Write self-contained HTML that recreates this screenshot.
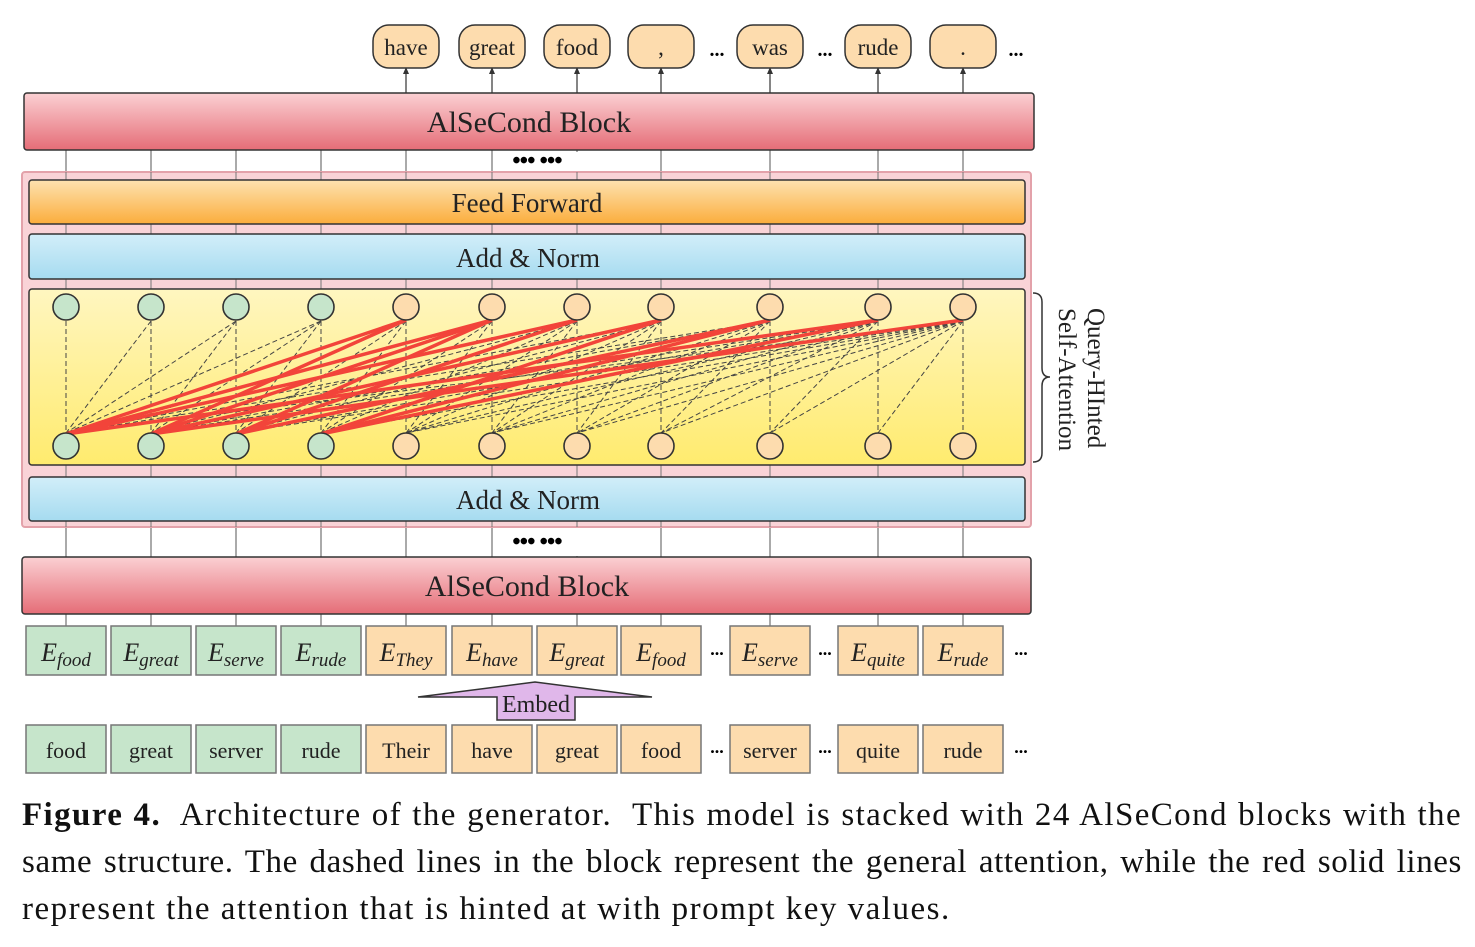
<!DOCTYPE html>
<html><head><meta charset="utf-8"><style>
html,body{margin:0;padding:0;background:#fff;}
svg{display:block;}
.cap{position:absolute;left:22px;width:1440px;font-family:"Liberation Serif",serif;font-size:33px;letter-spacing:1.5px;line-height:47px;text-align:justify;text-align-last:justify;color:#111;white-space:nowrap;}
</style></head><body>
<div style="position:relative;width:1475px;height:947px;overflow:hidden">
<svg id="s" width="1475" height="947" xmlns="http://www.w3.org/2000/svg" font-family="Liberation Serif, serif">
<defs>
<linearGradient id="gr" x1="0" y1="0" x2="0" y2="1"><stop offset="0" stop-color="#fbd0d3"/><stop offset="1" stop-color="#e56d77"/></linearGradient>
<linearGradient id="go" x1="0" y1="0" x2="0" y2="1"><stop offset="0" stop-color="#fde2b0"/><stop offset="1" stop-color="#fbad3c"/></linearGradient>
<linearGradient id="gb" x1="0" y1="0" x2="0" y2="1"><stop offset="0" stop-color="#d2eef9"/><stop offset="1" stop-color="#a6dbf0"/></linearGradient>
<linearGradient id="gy" x1="0" y1="0" x2="0" y2="1"><stop offset="0" stop-color="#fff6c0"/><stop offset="1" stop-color="#ffeb6e"/></linearGradient>
</defs>
<g id="bg"></g>
</svg>
<div class="cap" style="top:792px;letter-spacing:1.4px"><b>Figure 4.</b>&nbsp; Architecture of the generator.&nbsp; This model is stacked with 24 AlSeCond blocks with the</div>
<div class="cap" style="top:839px;letter-spacing:0.6px">same structure. The dashed lines in the block represent the general attention, while the red solid lines</div>
<div class="cap" style="top:886px;text-align-last:left">represent the attention that is hinted at with prompt key values.</div>
</div>
<script>
(function(){
const NS="http://www.w3.org/2000/svg",g=document.getElementById('bg');
function el(t,a,txt){const e=document.createElementNS(NS,t);for(const k in a)e.setAttribute(k,a[k]);if(txt!==undefined)e.textContent=txt;g.appendChild(e);return e;}
const X=[66,151,236,321,406,492,577,661,770,878,963];
const toks=["have","great","food",",","was","rude","."];
for(let i=0;i<7;i++){const x=X[i+4];
 el('line',{x1:x,y1:93,x2:x,y2:72,stroke:'#333','stroke-width':1.2});
 el('path',{d:`M${x-3} 74 L${x} 67 L${x+3} 74Z`,fill:'#333'});
 el('rect',{x:x-33,y:25,width:66,height:43,rx:16,fill:'#fddcae',stroke:'#333','stroke-width':1.5});
 el('text',{x:x,y:55,'text-anchor':'middle','font-size':23,fill:'#222'},toks[i]);}
[717,825,1016].forEach(x=>el('text',{x:x,y:56,'text-anchor':'middle','font-size':20,'font-weight':'bold'},'...'));
X.forEach(x=>{el('line',{x1:x,y1:150,x2:x,y2:180,stroke:'#555'});el('line',{x1:x,y1:521,x2:x,y2:557,stroke:'#555'});el('line',{x1:x,y1:614,x2:x,y2:626,stroke:'#555'});});
el('rect',{x:22,y:172,width:1009,height:355,fill:'#f9d3d7',stroke:'#e3a2aa','stroke-width':2,rx:3});
X.forEach(x=>el('line',{x1:x,y1:172,x2:x,y2:527,stroke:'#777'}));
el('rect',{x:24,y:93,width:1010,height:57,rx:3,fill:'url(#gr)',stroke:'#333','stroke-width':1.5});
el('text',{x:529,y:132,'text-anchor':'middle','font-size':30,fill:'#222'},'AlSeCond Block');
el('rect',{x:22,y:557,width:1009,height:57,rx:3,fill:'url(#gr)',stroke:'#333','stroke-width':1.5});
el('text',{x:527,y:596,'text-anchor':'middle','font-size':30,fill:'#222'},'AlSeCond Block');
el('rect',{x:495,y:152,width:85,height:19,fill:'#fff'});
el('text',{x:537,y:168,'text-anchor':'middle','font-size':24,'font-weight':'bold','letter-spacing':'-1'},'\u2022\u2022\u2022 \u2022\u2022\u2022');
el('rect',{x:495,y:528,width:85,height:28,fill:'#fff'});
el('text',{x:537,y:549,'text-anchor':'middle','font-size':24,'font-weight':'bold','letter-spacing':'-1'},'\u2022\u2022\u2022 \u2022\u2022\u2022');
el('rect',{x:29,y:180,width:996,height:44,rx:3,fill:'url(#go)',stroke:'#333','stroke-width':1.5});
el('text',{x:527,y:212,'text-anchor':'middle','font-size':27,fill:'#222'},'Feed Forward');
el('rect',{x:29,y:234,width:996,height:45,rx:3,fill:'url(#gb)',stroke:'#333','stroke-width':1.5});
el('text',{x:528,y:267,'text-anchor':'middle','font-size':27,fill:'#222'},'Add & Norm');
el('rect',{x:29,y:477,width:996,height:44,rx:3,fill:'url(#gb)',stroke:'#333','stroke-width':1.5});
el('text',{x:528,y:509,'text-anchor':'middle','font-size':27,fill:'#222'},'Add & Norm');
el('rect',{x:29,y:289,width:996,height:176,rx:3,fill:'url(#gy)',stroke:'#333','stroke-width':1.5});
for(let i=0;i<11;i++)for(let j=0;j<=i;j++){
 el('line',{x1:X[i],y1:321,x2:X[j],y2:433,stroke:'#444','stroke-width':1,'stroke-dasharray':'5,3'});}
const red=[[4,0],[4,1],[5,0],[5,1],[5,2],[6,0],[6,2],[7,1],[7,3],[8,2],[8,3],[9,0],[9,3],[10,1]];
red.forEach(([i,j])=>el('line',{x1:X[i],y1:320,x2:X[j],y2:434,stroke:'#f2443a','stroke-width':3.5}));
X.forEach((x,i)=>{const f=i<4?'#c6e5cb':'#fddcae';
 el('ellipse',{cx:x,cy:307,rx:13,ry:13,fill:f,stroke:'#333','stroke-width':1.6});
 el('ellipse',{cx:x,cy:446,rx:13,ry:13,fill:f,stroke:'#333','stroke-width':1.6});});
el('path',{d:'M1033 293 Q1042 293 1042 302 L1042 368 Q1042 377 1050 377 Q1042 377 1042 386 L1042 453 Q1042 462 1033 462',fill:'none',stroke:'#333','stroke-width':1.5});
el('text',{x:0,y:0,transform:'translate(1088,308) rotate(90)','font-size':25,fill:'#222'},'Query-HInted');
el('text',{x:0,y:0,transform:'translate(1059,308) rotate(90)','font-size':25,fill:'#222'},'Self-Attention');
const sub=["food","great","serve","rude","They","have","great","food","serve","quite","rude"];
const wd=["food","great","server","rude","Their","have","great","food","server","quite","rude"];
X.forEach((x,i)=>{const f=i<4?'#c6e5cb':'#fddcae';
 el('rect',{x:x-40,y:626,width:80,height:49,fill:f,stroke:'#777','stroke-width':1.5});
 const t=el('text',{x:x,y:661,'text-anchor':'middle','font-size':26,'font-style':'italic',fill:'#222'},'E');
 const ts=document.createElementNS(NS,'tspan');ts.setAttribute('font-size','19');ts.setAttribute('dy','5');ts.textContent=sub[i];t.appendChild(ts);
 el('rect',{x:x-40,y:725,width:80,height:48,fill:f,stroke:'#777','stroke-width':1.5});
 el('text',{x:x,y:758,'text-anchor':'middle','font-size':22,fill:'#222'},wd[i]);});
[[717,655],[825,655],[1021,655],[717,753],[825,753],[1021,753]].forEach(([x,y])=>el('text',{x:x,y:y,'text-anchor':'middle','font-size':18,'font-weight':'bold'},'...'));
el('path',{d:'M418 697 L535 682 L652 697 L575 697 L575 720 L497 720 L497 697Z',fill:'#e0b7ea',stroke:'#333','stroke-width':1.5});
el('text',{x:536,y:712,'text-anchor':'middle','font-size':24,fill:'#222'},'Embed');
})();
</script>
</body></html>
